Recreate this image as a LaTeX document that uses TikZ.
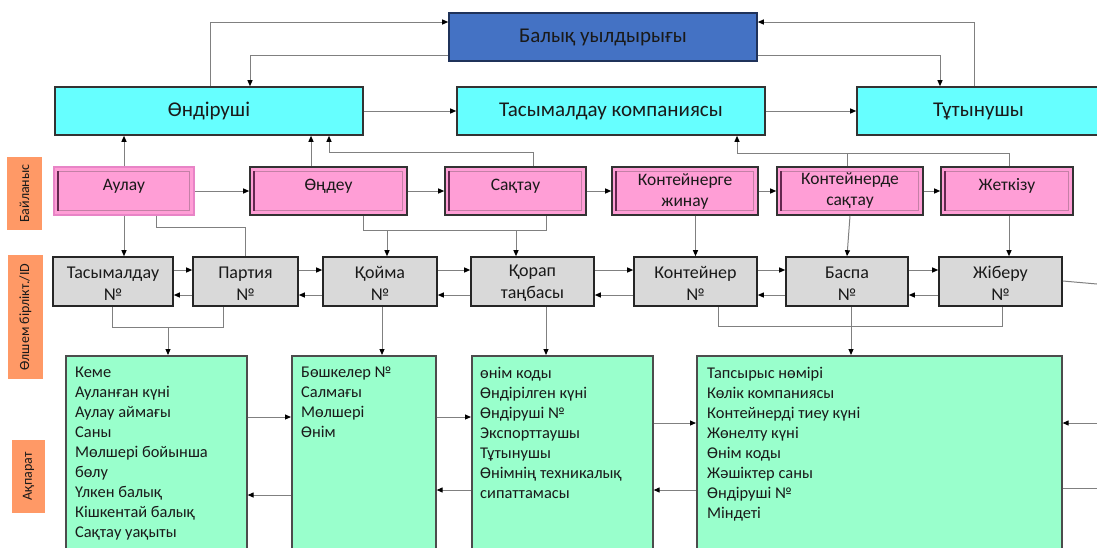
\documentclass[tikz,border=0pt]{standalone}
\usepackage{fontspec}
\setmainfont{Carlito}
\usetikzlibrary{arrows.meta,calc}

\definecolor{blueF}{RGB}{68,114,196}
\definecolor{blueD}{RGB}{31,50,90}
\definecolor{cyanF}{RGB}{102,255,255}
\definecolor{pinkF}{RGB}{255,158,214}
\definecolor{pinkA}{RGB}{232,132,198}
\definecolor{pinkL}{RGB}{196,128,166}
\definecolor{pinkD}{RGB}{100,40,80}
\definecolor{grayF}{RGB}{217,217,217}
\definecolor{greenF}{RGB}{153,255,204}
\definecolor{orangeF}{RGB}{255,153,102}
\definecolor{lineC}{RGB}{128,128,128}
\definecolor{txtC}{RGB}{26,26,26}

\tikzset{
  conn/.style={draw=lineC, line width=1pt, -{Triangle[length=6pt,width=5pt,color=black]}},
  wire/.style={draw=lineC, line width=1pt},
  topbox/.style={draw=black!80, line width=1.6pt, fill=cyanF, minimum height=48pt, inner sep=0pt, text=txtC, font=\fontsize{21}{25}\selectfont},
  pinkbox/.style={draw=black!80, line width=1.6pt, fill=pinkF, minimum height=48pt, inner sep=0pt, align=center, text=txtC, font=\fontsize{17.5}{21}\selectfont},
  oneln/.style={text height=12.5pt, text depth=14.5pt},
  idbox/.style={draw=black!85, line width=1.6pt, fill=grayF, minimum height=49pt, inner sep=0pt, align=center, text=txtC, font=\fontsize{18}{22}\selectfont},
  infobox/.style={draw=black!70, line width=1.6pt, fill=greenF, anchor=north west, minimum height=210pt, inner sep=0pt},
  infotxt/.style={anchor=north west, inner sep=0pt, align=left, text=txtC, font=\fontsize{16.4}{20}\selectfont},
  sidebox/.style={fill=orangeF, inner sep=0pt, rotate=90, text=txtC, font=\fontsize{14}{16}\selectfont},
}

\begin{document}
\begin{tikzpicture}[x=1pt,y=1pt,yscale=-1]
\path[use as bounding box, fill=white] (0,0) rectangle (1097,547);
\clip (0,0) rectangle (1097,547);

% top row
\node[topbox, fill=blueF, draw=blueD, minimum width=308pt] (fish) at (603,37) {Балық уылдырығы};
\node[topbox, minimum width=308pt] (prod) at (209,111) {Өндіруші};
\node[topbox, minimum width=308pt] (trans) at (611,111) {Тасымалдау компаниясы};
\node[topbox, minimum width=243pt] (cons) at (978.5,111) {Тұтынушы};

% side labels
\node[sidebox, minimum width=73pt, minimum height=35pt] (lbl1) at (24.5,193.5) {Байланыс};
\node[sidebox, minimum width=124pt, minimum height=35pt] (lbl2) at (25.5,317) {Өлшем бірлікт./ID};
\node[sidebox, minimum width=73pt, minimum height=33pt] (lbl3) at (28.5,476.5) {Ақпарат};

% process row
\node[pinkbox, oneln, draw=pinkA, minimum width=140pt] (aulau) at (124,191) {Аулау};
\node[pinkbox, oneln, minimum width=157pt] (ondeu) at (328.5,191) {Өңдеу};
\node[pinkbox, oneln, minimum width=141pt] (saktau) at (515.5,191) {Сақтау};
\node[pinkbox, minimum width=146pt] (kjinau) at (685,191) {Контейнерге\\жинау};
\node[pinkbox, minimum width=146pt] (ksaktau) at (850,191) {Контейнерде\\сақтау};
\node[pinkbox, oneln, minimum width=132pt] (jetkizu) at (1007,191) {Жеткізу};
\foreach \n in {aulau,ondeu,saktau,kjinau,ksaktau,jetkizu}{
  \draw[pinkL, line width=0.8pt] ($(\n.north west)+(5,5)$) rectangle ($(\n.south east)+(-5,-5)$);
  \draw[pinkD, line width=2pt] ($(\n.north west)+(5,5)$) -- ($(\n.south west)+(5,-5)$);
}

% id row
\node[idbox, minimum width=120pt] (tno) at (113,281.5) {\rule{0pt}{15pt}Тасымалдау\\№};
\node[idbox, minimum width=105pt] (partia) at (245.5,281.5) {\rule{0pt}{15pt}Партия\\№};
\node[idbox, minimum width=114pt] (koima) at (380,281.5) {\rule{0pt}{15pt}Қойма\\№};
\node[idbox, minimum width=123pt] (korap) at (532.5,281.5) {\rule{0pt}{15pt}Қорап\\таңбасы};
\node[idbox, minimum width=123pt] (kont) at (695.5,281.5) {\rule{0pt}{15pt}Контейнер\\№};
\node[idbox, minimum width=122pt] (baspa) at (847,281.5) {\rule{0pt}{15pt}Баспа\\№};
\node[idbox, minimum width=123pt] (jiberu) at (1000.5,281.5) {\rule{0pt}{15pt}Жіберу\\№};

% info row
\node[infobox, minimum width=181pt] (inf1) at (65,355) {};
\node[infobox, minimum width=144pt] (inf2) at (291,355) {};
\node[infobox, minimum width=181pt] (inf3) at (471,355) {};
\node[infobox, minimum width=365pt] (inf4) at (696,355) {};
\node[infotxt] (inf1t) at ($(inf1.north west)+(10,12)$) {Кеме\\Ауланған күні\\Аулау аймағы\\Саны\\Мөлшері бойынша\\бөлу\\Үлкен балық\\Кішкентай балық\\Сақтау уақыты};
\node[infotxt] (inf2t) at ($(inf2.north west)+(10,12)$) {Бөшкелер №\\Салмағы\\Мөлшері\\Өнім};
\node[infotxt] (inf3t) at ($(inf3.north west)+(9,12)$) {өнім коды\\Өндірілген күні\\Өндіруші №\\Экспорттаушы\\Тұтынушы\\Өнімнің техникалық\\сипаттамасы};
\node[infotxt] (inf4t) at ($(inf4.north west)+(11,12)$) {Тапсырыс нөмірі\\Көлік компаниясы\\Контейнерді тиеу күні\\Жөнелту күні\\Өнім коды\\Жәшіктер саны\\Өндіруші №\\Міндеті};

\coordinate (edgeA) at (1097,284);
\coordinate (edgeB) at (1097,423);
\coordinate (edgeC) at (1097,488);

% top links
\draw[conn] (210,0 |- prod.north) |- (fish.west |- 0,22);
\draw[conn] (fish.west |- 0,55) -| (250,0 |- prod.north);
\draw[conn] (fish.east |- 0,55) -| (940,0 |- cons.north);
\draw[conn] (974,0 |- cons.north) |- (fish.east |- 0,22);
\draw[conn] (prod) -- (trans);
\draw[conn] (trans) -- (cons);

% process -> actors
\draw[conn] (aulau.north) -- (aulau.north |- prod.south);
\draw[conn] (311,0 |- ondeu.north) -- (311,0 |- prod.south);
\draw[conn] (533,0 |- saktau.north) |- (329,152) -- (329,0 |- prod.south);
\draw[wire] (847,0 |- ksaktau.north) -- (847,153);
\draw[conn] (1009,0 |- jetkizu.north) |- (737,153) -- (737,0 |- trans.south);

% process chain
\foreach \a/\b in {aulau/ondeu,ondeu/saktau,saktau/kjinau,kjinau/ksaktau,ksaktau/jetkizu}
  \draw[conn] (\a) -- (\b);

% process -> id
\draw[conn] (124,0 |- aulau.south) -- (124,0 |- tno.north);
\draw[wire] (156,0 |- aulau.south) |- (partia.north |- 0,227) -- (partia.north);
\draw[wire] (363,0 |- ondeu.south) |- (546,230) -- (546,0 |- saktau.south);
\draw[conn] (387,230) -- (387,0 |- koima.north);
\draw[conn] (516,230) -- (516,0 |- korap.north);
\draw[conn] (kont.north |- kjinau.south) -- (kont.north);
\draw[conn] (ksaktau.south) -- (baspa.north);
\draw[conn] (1009,0 |- jetkizu.south) -- (1009,0 |- jiberu.north);

% id chain
\foreach \a/\b in {tno/partia,partia/koima,koima/korap,korap/kont,kont/baspa,baspa/jiberu}{
  \draw[conn] (\a.east |- 0,270) -- (\b.west |- 0,270);
  \draw[conn] (\b.west |- 0,295) -- (\a.east |- 0,295);
}
\draw[wire] (jiberu.east |- 0,281) -- (edgeA);

% id -> info
\draw[wire] (112,0 |- tno.south) |- (223,327) -- (223,0 |- partia.south);
\draw[conn] (168,327) -- (168,0 |- inf1.north);
\draw[conn] (382,0 |- koima.south) -- (382,0 |- inf2.north);
\draw[conn] (546,0 |- korap.south) -- (546,0 |- inf3.north);
\draw[wire] (718,0 |- kont.south) |- (1002,326) -- (1002,0 |- jiberu.south);
\draw[conn] (851,0 |- baspa.south) -- (851,0 |- inf4.north);

% info chain
\draw[conn] (inf1.east |- 0,417) -- (inf2.west |- 0,417);
\draw[conn] (inf2.west |- 0,495) -- (inf1.east |- 0,495);
\draw[conn] (inf2.east |- 0,417) -- (inf3.west |- 0,417);
\draw[conn] (inf3.west |- 0,490) -- (inf2.east |- 0,490);
\draw[conn] (inf3.east |- 0,423) -- (inf4.west |- 0,423);
\draw[conn] (inf4.west |- 0,490) -- (inf3.east |- 0,490);
\draw[conn] (edgeB) -- (inf4.east |- edgeB);
\draw[wire] (inf4.east |- edgeC) -- (edgeC);

\end{tikzpicture}
\end{document}
